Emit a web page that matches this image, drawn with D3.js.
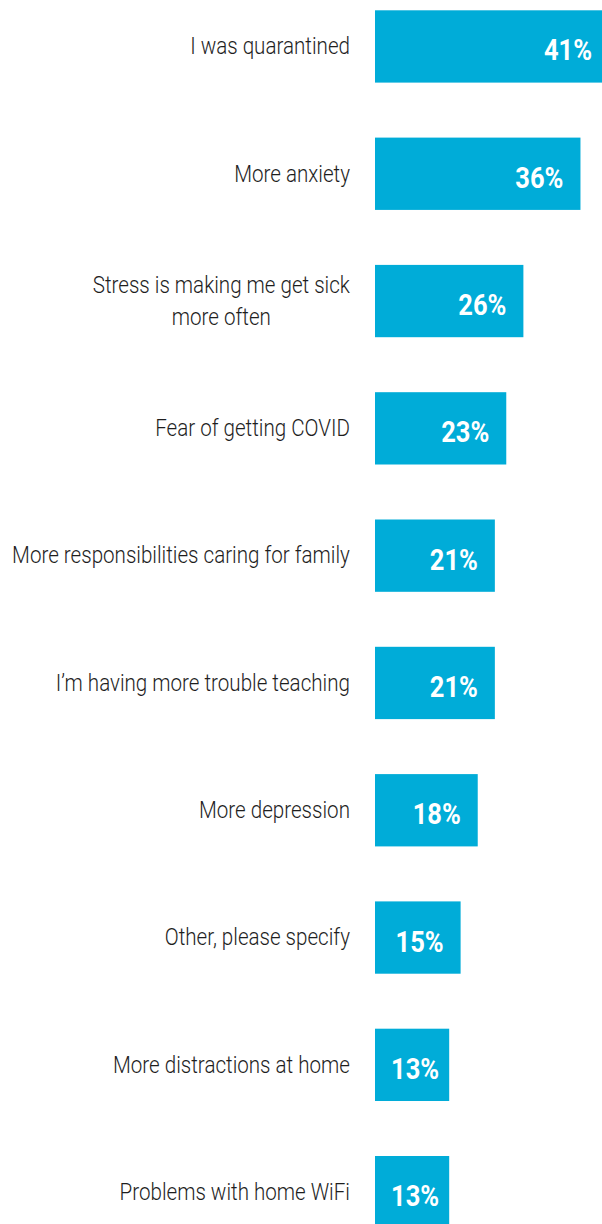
<!DOCTYPE html>
<html>
<head>
<meta charset="utf-8">
<script src="https://cdn.jsdelivr.net/npm/d3@7"></script>
<style>
  html, body { margin: 0; padding: 0; background: #ffffff; }
  svg { display: block; }
</style>
</head>
<body>
<div id="chart"></div>
<script>
// Survey responses: share of respondents selecting each reason
const categories = [
  "I was quarantined",
  "More anxiety",
  "Stress is making me get sick|more often",
  "Fear of getting COVID",
  "More responsibilities caring for family",
  "I\u2019m having more trouble teaching",
  "More depression",
  "Other, please specify",
  "More distractions at home",
  "Problems with home WiFi"
];
const values = [41, 36, 26, 23, 21, 21, 18, 15, 13, 13];

const W = 602, H = 1224;
const barColor = "#00acd8";

const svg = d3.select("#chart").append("svg")
  .attr("width", W).attr("height", H);

const x = d3.scaleLinear().domain([0, 41]).range([375, 609]);
const y = d3.scaleBand().domain(categories)
  .range([10.3, 10.3 + 127.3 * (categories.length - 0.432)])
  .paddingInner(0.432).paddingOuter(0);

const rows = categories.map((c, i) => ({ cat: c, lines: c.split("|"), v: values[i] }));

// bars
svg.append("g").selectAll("rect").data(rows).join("rect")
  .attr("x", x(0))
  .attr("y", d => y(d.cat))
  .attr("width", d => x(d.v) - x(0))
  .attr("height", y.bandwidth())
  .attr("fill", barColor);

// category labels: each label block sits right-aligned against the bars,
// with multi-line labels centred within their block
const labelRight = 350;
const catText = svg.append("g").selectAll("text").data(rows).join("text")
  .attr("text-anchor", "middle")
  .attr("font-family", "Roboto, 'Noto Sans', sans-serif")
  .attr("font-weight", 300)
  .attr("font-size", 23)
  .attr("fill", "#1e1e1e");
catText.each(function (d) {
  const t = d3.select(this);
  const n = d.lines.length;
  d.lines.forEach((ln, k) => {
    t.append("tspan").attr("x", 0)
      .attr("y", (k - (n - 1) / 2) * 31.5)
      .text(ln);
  });
  d.blockW = d3.max(t.selectAll("tspan").nodes(), s => s.getComputedTextLength());
});
// squeeze so the longest line spans the label column
const maxW = d3.max(rows, d => d.blockW);
const catScale = 338 / maxW;
catText.attr("transform", d =>
  `translate(${labelRight - d.blockW * catScale / 2},${y(d.cat) + y.bandwidth() / 2 + 7.8}) scale(${catScale},1)`);

// value labels inside the bars
const valScaleX = 0.85;
const valText = svg.append("g").selectAll("text").data(rows).join("text")
  .attr("text-anchor", "end")
  .attr("font-family", "Roboto, 'Noto Sans', sans-serif")
  .attr("font-weight", 700)
  .attr("font-size", 30)
  .attr("fill", "#ffffff")
  .text(d => d.v + "%");
valText.attr("transform", function (d) {
  const w = this.getComputedTextLength() * valScaleX;
  const right = Math.max(x(d.v) - 17, x(0) + 16 + w);
  return `translate(${right},${y(d.cat) + y.bandwidth() / 2 + 14}) scale(${valScaleX},1)`;
});
</script>
</body>
</html>
